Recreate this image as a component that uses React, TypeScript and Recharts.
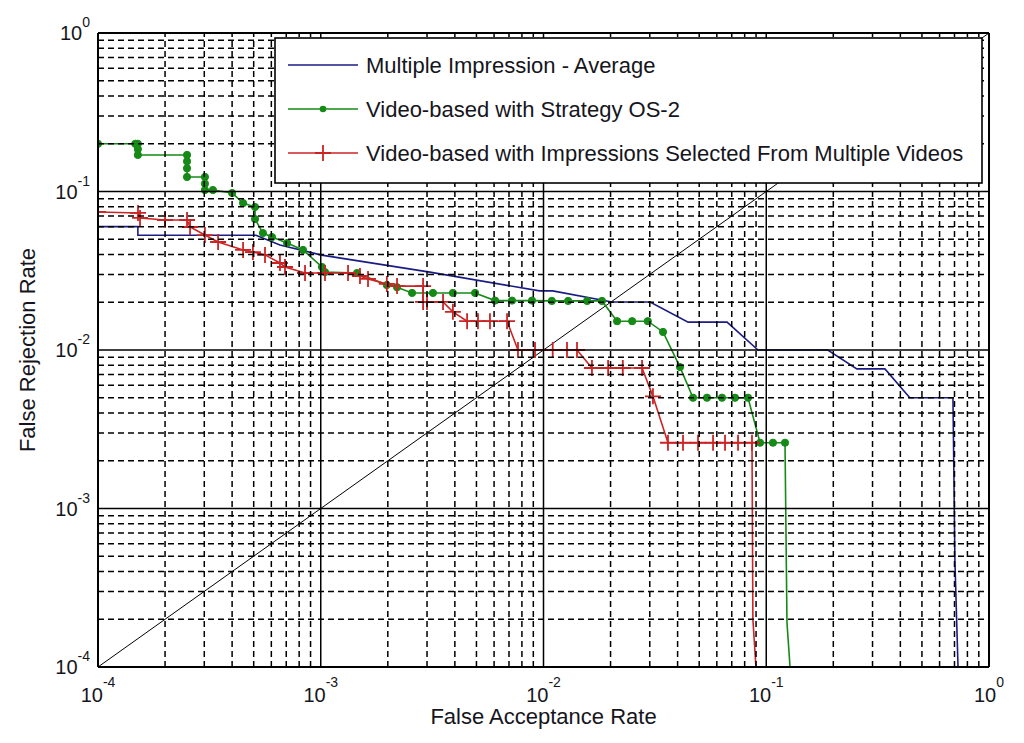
import React from 'react';
import { LineChart, Line, XAxis, YAxis, ReferenceLine } from 'recharts';

const FONT = '"Liberation Sans", Arial, Helvetica, sans-serif';

// axis ticks (log decades) and the minor grid mantissas
const decadeTicks = [1e-4, 1e-3, 1e-2, 1e-1, 1];
const minorMantissas = [2, 3, 4, 5, 6, 7, 8, 9];

// Multiple Impression - Average
const blueX = [1e-4, 1.51e-4, 1.51e-4, 5.12e-4, 6.56e-4, 1.01e-3, 3.09e-3, 9.6e-3, 0.011, 0.0203, 0.0301, 0.0446, 0.0667, 0.0918, 0.189, 0.255, 0.341, 0.441, 0.689, 0.703, 0.726];
const blueY = [0.06, 0.06, 0.053, 0.053, 0.0459, 0.0397, 0.031, 0.0236, 0.0236, 0.0201, 0.0201, 0.015, 0.015, 0.01, 0.01, 0.0076, 0.0076, 0.005, 0.005, 4.7e-4, 1e-4];

// Video-based with Strategy OS-2
const greenX = [1e-4, 1.47e-4, 1.51e-4, 1.51e-4, 1.51e-4, 2.51e-4, 2.51e-4, 2.51e-4, 2.51e-4, 3.02e-4, 3.02e-4, 3.02e-4, 3.28e-4, 4.0e-4, 4.48e-4, 5.07e-4, 5.07e-4, 5.5e-4, 6.04e-4, 7.06e-4, 8.32e-4, 1.013e-3, 1.045e-3, 1.455e-3, 1.98e-3, 2.2e-3, 2.57e-3, 3.19e-3, 3.92e-3, 4.93e-3, 6.06e-3, 7.22e-3, 8.88e-3, 0.0109, 0.0129, 0.0157, 0.0183, 0.0214, 0.025, 0.0294, 0.0344, 0.041, 0.0469, 0.0542, 0.0633, 0.0724, 0.0828, 0.0938, 0.1072, 0.1214, 0.1239, 0.1279];
const greenY = [0.2, 0.2, 0.2, 0.185, 0.17, 0.17, 0.155, 0.14, 0.1235, 0.1235, 0.112, 0.1022, 0.1022, 0.0978, 0.0845, 0.0798, 0.067, 0.0547, 0.0516, 0.0473, 0.0428, 0.0334, 0.031, 0.0306, 0.0257, 0.0249, 0.0229, 0.0229, 0.0229, 0.0229, 0.0205, 0.0205, 0.0205, 0.0204, 0.0204, 0.0204, 0.0204, 0.0152, 0.0152, 0.0152, 0.013, 0.0078, 0.005, 0.005, 0.005, 0.005, 0.005, 0.0026, 0.0026, 0.0026, 1.9e-4, 1e-4];

// Video-based with Impressions Selected From Multiple Videos
const redX = [1e-4, 1.512e-4, 1.544e-4, 2.0e-4, 2.51e-4, 2.59e-4, 3.02e-4, 3.46e-4, 4.48e-4, 4.96e-4, 5.62e-4, 6.56e-4, 6.91e-4, 8.5e-4, 1.045e-3, 1.326e-3, 1.5e-3, 1.63e-3, 1.98e-3, 2.2e-3, 2.88e-3, 2.88e-3, 3.0e-3, 3.54e-3, 3.92e-3, 4.54e-3, 5.08e-3, 5.75e-3, 6.86e-3, 7.68e-3, 9.16e-3, 0.011, 0.01275, 0.01414, 0.0165, 0.0195, 0.0227, 0.0277, 0.031, 0.0362, 0.0423, 0.0494, 0.0577, 0.0653, 0.0747, 0.0863, 0.0871, 0.0899];
const redY = [0.0743, 0.0732, 0.0681, 0.0661, 0.0661, 0.0597, 0.0531, 0.048, 0.0428, 0.0415, 0.0398, 0.0354, 0.0334, 0.0306, 0.0306, 0.0306, 0.0293, 0.0281, 0.0261, 0.0253, 0.0253, 0.0201, 0.0201, 0.0201, 0.0174, 0.0152, 0.0152, 0.0152, 0.0152, 0.01, 0.01, 0.01, 0.01, 0.01, 0.0077, 0.0077, 0.0077, 0.0077, 0.0051, 0.0026, 0.0026, 0.0026, 0.0026, 0.0026, 0.0026, 0.0026, 2e-4, 1e-4];

// equal error rate diagonal
const diagX = [1e-4, 1];
const diagY = [1e-4, 1];

const BLUE = '#1b1b85';
const GREEN = '#168a16';
const RED = '#cc2424';
const INK = '#151520';

const toPoints = (xs: number[], ys: number[]) => xs.map((x, i) => ({ x, y: ys[i] }));

const blueData = toPoints(blueX, blueY);
const greenData = toPoints(greenX, greenY);
const redData = toPoints(redX, redY);
const diagData = toPoints(diagX, diagY);

const minorTicks = decadeTicks.slice(0, -1).flatMap(d => minorMantissas.map(m => d * m));
const innerMajor = decadeTicks.slice(1, -1);
const edges = [decadeTicks[0], decadeTicks[decadeTicks.length - 1]];

const XTick = ({ x, y, payload }: any) => {
    const e = Math.round(Math.log10(payload.value));
    return (
        <text x={x} y={y + 35} textAnchor="middle" fill={INK} fontSize={20}>
            <tspan>10</tspan>
            <tspan dy={-15} fontSize={14}>{e}</tspan>
        </text>
    );
};

const YTick = ({ x, y, payload }: any) => {
    const e = Math.round(Math.log10(payload.value));
    return (
        <text x={x - 8} y={y + 7} textAnchor="end" fill={INK} fontSize={20}>
            <tspan>10</tspan>
            <tspan dy={-13} fontSize={14}>{e}</tspan>
        </text>
    );
};

const GreenDot = (props: any) => {
    const { cx, cy, index } = props;
    if (index >= greenX.length - 2) return <g key={`g-${index}`} />;
    return <circle key={`g-${index}`} cx={cx} cy={cy} r={3.6} fill={GREEN} stroke={GREEN} strokeWidth={1} />;
};

const RedPlus = (props: any) => {
    const { cx, cy, index } = props;
    if (index >= redX.length - 2) return <g key={`r-${index}`} />;
    return <path key={`r-${index}`} d={`M${cx - 8},${cy}H${cx + 8}M${cx},${cy - 8}V${cy + 8}`} stroke={RED} strokeWidth={1.8} fill="none" />;
};

const legendItems = [
    { label: 'Multiple Impression - Average', color: BLUE, marker: 'none' },
    { label: 'Video-based with Strategy OS-2', color: GREEN, marker: 'dot' },
    { label: 'Video-based with Impressions Selected From Multiple Videos', color: RED, marker: 'plus' },
];

const ChartLegend = () => (
    <svg width={709} height={147} style={{ position: 'absolute', left: 274, top: 37, fontFamily: FONT }}>
        <rect x={1} y={1} width={707} height={145} fill="#fff" stroke="#000" strokeWidth={1.6} />
        {legendItems.map((it, i) => {
            const cy = 28 + i * 44;
            return (
                <g key={it.label}>
                    <line x1={14} x2={84} y1={cy} y2={cy} stroke={it.color} strokeWidth={1.6} />
                    {it.marker === 'dot' && <circle cx={49} cy={cy} r={3.3} fill={it.color} />}
                    {it.marker === 'plus' && <path d={`M41,${cy}H57M49,${cy - 8}V${cy + 8}`} stroke={it.color} strokeWidth={1.8} />}
                    <text x={92} y={cy + 8} fontSize={22} fill={INK}>{it.label}</text>
                </g>
            );
        })}
    </svg>
);

export default function App() {
    return (
        <div style={{ position: 'absolute', left: 0, top: 0, width: 1024, height: 743, background: '#fff', fontFamily: FONT }}>
            <LineChart width={1024} height={743} margin={{ top: 33, right: 35, bottom: 0, left: 0 }}>
                <XAxis
                    dataKey="x" type="number" scale="log" domain={[1e-4, 1]} allowDataOverflow
                    ticks={decadeTicks} interval={0} tickLine={false} axisLine={false}
                    tickSize={0} tickMargin={0} height={76} tick={<XTick />}
                    label={{ value: 'False Acceptance Rate', position: 'insideBottom', offset: 19, fontSize: 22, fill: INK }}
                />
                <YAxis
                    dataKey="y" type="number" scale="log" domain={[1e-4, 1]} allowDataOverflow
                    ticks={decadeTicks} interval={0} tickLine={false} axisLine={false}
                    tickSize={0} tickMargin={0} width={98} tick={<YTick />}
                    label={{ value: 'False Rejection Rate', angle: -90, position: 'insideLeft', offset: 27, fontSize: 22, fill: INK, style: { textAnchor: 'middle' } }}
                />
                <Line data={diagData} dataKey="y" type="linear" stroke="#000" strokeWidth={1} dot={false} isAnimationActive={false} />
                <Line data={blueData} dataKey="y" type="linear" stroke={BLUE} strokeWidth={1.6} dot={false} isAnimationActive={false} />
                <Line data={greenData} dataKey="y" type="linear" stroke={GREEN} strokeWidth={1.6} dot={GreenDot} isAnimationActive={false} />
                <Line data={redData} dataKey="y" type="linear" stroke={RED} strokeWidth={1.6} dot={RedPlus} isAnimationActive={false} />
                {minorTicks.map(v => (
                    <ReferenceLine key={`xm-${v}`} x={v} stroke="#000" strokeWidth={1.5} strokeDasharray="6 4" zIndex={700} />
                ))}
                {minorTicks.map(v => (
                    <ReferenceLine key={`ym-${v}`} y={v} stroke="#000" strokeWidth={1.5} strokeDasharray="6 4" zIndex={700} />
                ))}
                {innerMajor.map(v => (
                    <ReferenceLine key={`xM-${v}`} x={v} stroke="#000" strokeWidth={1.5} zIndex={700} />
                ))}
                {innerMajor.map(v => (
                    <ReferenceLine key={`yM-${v}`} y={v} stroke="#000" strokeWidth={1.5} zIndex={700} />
                ))}
                {edges.map(v => (
                    <ReferenceLine key={`xe-${v}`} x={v} stroke="#000" strokeWidth={2} zIndex={700} />
                ))}
                {edges.map(v => (
                    <ReferenceLine key={`ye-${v}`} y={v} stroke="#000" strokeWidth={2} zIndex={700} />
                ))}
            </LineChart>
            <ChartLegend />
        </div>
    );
}
